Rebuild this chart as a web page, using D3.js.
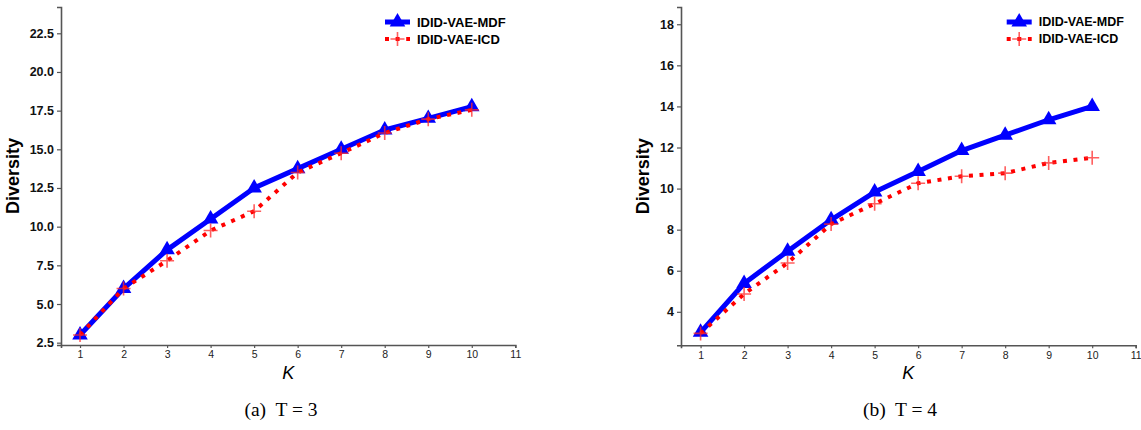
<!DOCTYPE html>
<html><head><meta charset="utf-8">
<script src="https://cdn.jsdelivr.net/npm/d3@7"></script>
<style>body{margin:0;background:#fff}svg{display:block}</style>
</head><body>
<script>
const kValues = [1,2,3,4,5,6,7,8,9,10];
const xTicks = [1,2,3,4,5,6,7,8,9,10,11];
const mdfT3 = [3.0,6.0,8.5,10.5,12.5,13.75,15.0,16.25,17.0,17.75];
const icdT3 = [3.0,6.0,7.8,9.75,11.0,13.5,14.75,16.05,16.95,17.55];
const mdfT4 = [3.0,5.38,6.95,8.48,9.83,10.83,11.85,12.6,13.35,14.0];
const icdT4 = [2.95,4.87,6.38,8.27,9.26,10.26,10.6,10.75,11.25,11.5];
const yTicksT3 = [2.5,5.0,7.5,10.0,12.5,15.0,17.5,20.0,22.5];
const yTicksT4 = [4,6,8,10,12,14,16,18];
const seriesNames = ["IDID-VAE-MDF","IDID-VAE-ICD"];
const captions = ["(a)  T = 3","(b)  T = 4"];

const W=1141,H=430;
const svg=d3.select("body").append("svg").attr("width",W).attr("height",H);

const panels=[
 {mdf:mdfT3,icd:icdT3,yt:yTicksT3,fmt:d3.format(".1f"),xd:[0.563,11],xr:[61,515.3],yd:[2.35,24.2],yr:[345,7],ylabX:13,legX:385,legFont:13,cap:captions[0],capX:281},
 {mdf:mdfT4,icd:icdT4,yt:yTicksT4,fmt:d3.format("d"),xd:[0.55,11],xr:[681,1135.7],yd:[2.37,18.84],yr:[345.3,7],ylabX:643,legX:1006.7,legFont:12.5,cap:captions[1],capX:900}
];

const tri=d3.symbol().type(d3.symbolTriangle).size(105);

panels.forEach(p=>{
  const x=d3.scaleLinear().domain(p.xd).range(p.xr);
  const y=d3.scaleLinear().domain(p.yd).range(p.yr);
  const g=svg.append("g");
  const ya=g.append("g").attr("transform",`translate(${p.xr[0]},0)`)
    .call(d3.axisLeft(y).tickValues(p.yt).tickFormat(p.fmt).tickSize(4).tickPadding(3));
  ya.selectAll("text").attr("font-family","Liberation Sans, Arial, sans-serif").attr("font-weight","bold").attr("font-size",12.5).attr("fill","#111");
  const xa=g.append("g").attr("transform",`translate(0,${p.yr[0]})`)
    .call(d3.axisBottom(x).tickValues(xTicks).tickFormat(d3.format("d")).tickSize(3).tickPadding(3));
  xa.selectAll("text").attr("font-family","Liberation Sans, Arial, sans-serif").attr("font-size",10.5).attr("fill","#222");
  [ya,xa].forEach(a=>{a.select(".domain").attr("stroke","#555").attr("stroke-width",1.6);a.selectAll(".tick line").attr("stroke","#555").attr("stroke-width",1.2);});
  g.append("text").attr("transform",`translate(${p.ylabX},${(p.yr[0]+p.yr[1])/2}) rotate(-90)`)
    .attr("text-anchor","middle").attr("dominant-baseline","central")
    .attr("font-family","Liberation Sans, Arial, sans-serif").attr("font-weight","bold").attr("font-size",18).text("Diversity");
  g.append("text").attr("x",(p.xr[0]+p.xr[1])/2).attr("y",379).attr("text-anchor","middle")
    .attr("font-family","Liberation Sans, Arial, sans-serif").attr("font-style","italic").attr("font-size",18).text("K");
  g.append("text").attr("x",p.capX).attr("y",416).attr("text-anchor","middle")
    .attr("font-family","Liberation Serif, Times New Roman, serif").attr("font-size",19.5).style("white-space","pre").text(p.cap);
  const line=d3.line().x((d,i)=>x(kValues[i])).y(d=>y(d));
  g.append("path").datum(p.mdf).attr("d",line).attr("fill","none").attr("stroke","#0000ff").attr("stroke-width",5).attr("stroke-linejoin","round");
  g.selectAll(".tri").data(p.mdf).join("path").attr("d",tri).attr("fill","#0000ff")
    .attr("transform",(d,i)=>`translate(${x(kValues[i])},${y(d)})`);
  g.append("path").datum(p.icd).attr("d",line).attr("fill","none").attr("stroke","#ff0000").attr("stroke-width",4).attr("stroke-dasharray","4,6.6");
  g.selectAll(".plus").data(p.icd).join("path")
    .attr("d","M-7,0H7M0,-7V7").attr("stroke","rgba(255,40,40,0.75)").attr("stroke-width",1.6).attr("fill","none")
    .attr("transform",(d,i)=>`translate(${x(kValues[i])},${y(d)})`);
  const lx=p.legX, lw=25;
  const lg=g.append("g");
  lg.append("line").attr("x1",lx).attr("x2",lx+lw).attr("y1",22).attr("y2",22).attr("stroke","#0000ff").attr("stroke-width",5);
  lg.append("path").attr("d",tri).attr("fill","#0000ff").attr("transform",`translate(${lx+lw/2},22)`);
  lg.append("line").attr("x1",lx).attr("x2",lx+lw).attr("y1",39).attr("y2",39).attr("stroke","#ff0000").attr("stroke-width",4).attr("stroke-dasharray","4,6.6");
  lg.append("path").attr("d","M-7,0H7M0,-7V7").attr("stroke","rgba(255,40,40,0.75)").attr("stroke-width",1.6).attr("transform",`translate(${lx+lw/2},39)`);
  seriesNames.forEach((n,i)=>{
    lg.append("text").attr("x",lx+lw+7).attr("y",22+17*i).attr("dominant-baseline","central")
      .attr("font-family","Liberation Sans, Arial, sans-serif").attr("font-weight","bold").attr("font-size",p.legFont).text(n);
  });
});
</script>
</body></html>
